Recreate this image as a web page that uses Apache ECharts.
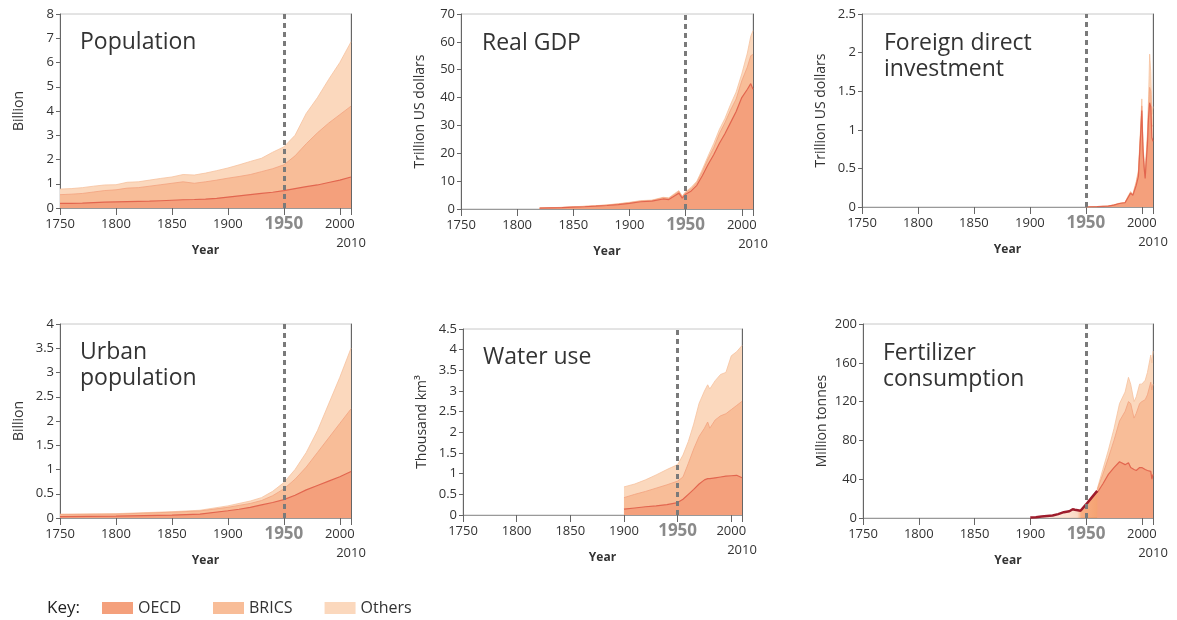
<!DOCTYPE html>
<html>
<head>
<meta charset="utf-8">
<script src="https://cdn.jsdelivr.net/npm/echarts@6/dist/echarts.min.js"></script>
<style>
  html, body { margin: 0; padding: 0; background: #fff; }
  #chart { width: 1177px; height: 620px; }
</style>
</head>
<body>
<div id="chart"></div>
<script>
// --- data ---
const groups = ['OECD', 'BRICS', 'Others']
const yearLabels = [1750, 1800, 1850, 1900, 1950, 2000]
const yearTicks = [1750, 1800, 1850, 1900, 1950, 2000, 2010]
const lastYear = '2010'

const popYears = [1750,1760,1770,1780,1790,1800,1810,1820,1830,1840,1850,1860,1870,1880,1890,1900,1910,1920,1930,1940,1950,1960,1970,1980,1990,2000,2010]
const popOecd = [0.19,0.19,0.2,0.22,0.24,0.25,0.26,0.27,0.28,0.3,0.32,0.34,0.35,0.37,0.4,0.45,0.5,0.55,0.6,0.65,0.72,0.8,0.88,0.95,1.05,1.15,1.28]
const popBrics = [0.36,0.38,0.4,0.44,0.48,0.5,0.56,0.57,0.62,0.66,0.7,0.74,0.67,0.71,0.75,0.78,0.8,0.83,0.9,0.97,1.06,1.35,1.77,2.15,2.45,2.7,2.92]
const popOthers = [0.23,0.23,0.24,0.24,0.23,0.21,0.24,0.24,0.25,0.26,0.26,0.3,0.34,0.36,0.39,0.42,0.48,0.54,0.55,0.68,0.74,0.85,1.25,1.45,1.8,2.15,2.65]

const gdpYears = [1820,1830,1840,1850,1860,1870,1880,1890,1900,1910,1920,1930,1935,1940,1944,1947,1950,1955,1960,1965,1970,1975,1980,1985,1990,1995,2000,2005,2008,2010]
const gdpOecd = [0.3,0.4,0.5,0.65,0.8,1.0,1.25,1.6,2.0,2.6,2.8,3.6,3.4,4.7,5.7,3.9,5.3,6.5,8.5,12,16,19.5,23.5,27,31,35,40,43,45,43]
const gdpBrics = [0.07,0.07,0.07,0.1,0.13,0.12,0.15,0.2,0.25,0.25,0.25,0.4,0.4,0.5,0.6,0.45,0.6,0.8,1.0,1.5,2.0,2.5,3.5,4.0,4.5,4.5,6.0,8.0,10,12.5]
const gdpOthers = [0.03,0.03,0.03,0.05,0.07,0.08,0.1,0.1,0.15,0.15,0.15,0.2,0.2,0.3,0.3,0.25,0.3,0.5,0.5,0.8,1.0,1.5,1.5,1.5,2.0,2.5,2.5,5.0,7.0,8.5]

const fdiYears = [1950,1960,1970,1975,1980,1985,1988,1990,1992,1995,1997,1999,2000,2001,2002,2003,2004,2005,2006,2007,2008,2009,2010]
const fdiOecd = [0,0.004,0.012,0.025,0.045,0.055,0.13,0.18,0.15,0.28,0.4,0.95,1.25,0.75,0.52,0.37,0.6,0.8,1.15,1.35,1.3,0.9,0.85]
const fdiBrics = [0,0,0,0,0,0.002,0.005,0.005,0.01,0.03,0.05,0.05,0.06,0.05,0.05,0.03,0.06,0.08,0.1,0.2,0.2,0.15,0.2]
const fdiOthers = [0,0.001,0.001,0.005,0.005,0.003,0.015,0.015,0.01,0.02,0.03,0.05,0.09,0.05,0.03,0.02,0.04,0.07,0.15,0.43,0.25,0.15,0.25]

const urbYears = [1750,1800,1850,1875,1900,1910,1920,1930,1940,1950,1960,1970,1980,1990,2000,2010]
const urbOecd = [0.03,0.04,0.06,0.08,0.15,0.18,0.22,0.27,0.32,0.38,0.47,0.58,0.67,0.76,0.85,0.96]
const urbBrics = [0.04,0.04,0.06,0.065,0.07,0.08,0.08,0.09,0.14,0.22,0.33,0.47,0.68,0.89,1.1,1.29]
const urbOthers = [0.01,0.01,0.01,0.015,0.03,0.04,0.05,0.06,0.09,0.13,0.2,0.3,0.45,0.7,0.95,1.25]

const watYears = [1900,1910,1920,1930,1940,1950,1955,1960,1965,1970,1975,1978,1980,1985,1990,1995,2000,2005,2010]
const watOecd = [0.14,0.17,0.2,0.22,0.25,0.3,0.38,0.5,0.62,0.75,0.85,0.88,0.88,0.9,0.92,0.94,0.95,0.96,0.9]
const watBrics = [0.28,0.33,0.37,0.43,0.48,0.52,0.54,0.75,0.98,1.15,1.25,1.37,1.22,1.4,1.48,1.51,1.6,1.69,1.85]
const watOthers = [0.26,0.25,0.28,0.32,0.37,0.4,0.53,0.53,0.6,0.8,0.9,0.9,0.95,0.95,1.0,1.0,1.3,1.3,1.35]

const ferYears = [1960,1965,1970,1975,1980,1985,1988,1990,1993,1995,1998,2000,2003,2005,2008,2009,2010]
const ferOecd = [26,35,45,52,58,55,57,52,50,49,52,52,50,49,48,40,45]
const ferBrics = [3,10,17,28,42,55,63,66,53,59,66,68,72,78,92,92,93]
const ferOthers = [1,5,8,12,18,20,25,20,17,17,20,18,20,23,28,28,34]
// world total before the regional split
const ferWorldYears = [1900,1905,1910,1915,1920,1925,1930,1935,1938,1940,1945,1950,1955,1960]
const ferWorld = [0.5,0.8,1.5,2,2.5,4,6,7,9,8.5,7.5,14,21,28]

const FONT = '"Open Sans", "Noto Sans", sans-serif'
const fills = ['#f4a07c', '#f8bd98', '#fbd8bd']
const edges = ['#e2664f', '#f2a27f', '#f6c29e']

const panels = [
  { title: 'Population', yName: 'Billion', max: 8, step: 1, years: popYears, vals: [popOecd, popBrics, popOthers],
    box: { left: 60, top: 14, width: 291, height: 194 }, titlePos: [75, 24] },
  { title: 'Real GDP', yName: 'Trillion US dollars', max: 70, step: 10, years: gdpYears, vals: [gdpOecd, gdpBrics, gdpOthers],
    box: { left: 461, top: 14, width: 292, height: 195 }, titlePos: [477, 25] },
  { title: 'Foreign direct\ninvestment', yName: 'Trillion US dollars', max: 2.5, step: 0.5, years: fdiYears, vals: [fdiOecd, fdiBrics, fdiOthers],
    box: { left: 862, top: 14, width: 291, height: 193 }, titlePos: [879, 25] },
  { title: 'Urban\npopulation', yName: 'Billion', max: 4, step: 0.5, years: urbYears, vals: [urbOecd, urbBrics, urbOthers],
    box: { left: 60, top: 324, width: 291, height: 194 }, titlePos: [75, 334] },
  { title: 'Water use', yName: 'Thousand km³', max: 4.5, step: 0.5, years: watYears, vals: [watOecd, watBrics, watOthers],
    box: { left: 463, top: 329, width: 279, height: 186 }, titlePos: [478, 339] },
  { title: 'Fertilizer\nconsumption', yName: 'Million tonnes', max: 200, step: 40, years: ferYears, vals: [ferOecd, ferBrics, ferOthers],
    box: { left: 863, top: 324, width: 290, height: 194 }, titlePos: [878, 335] },
]

const grid = [], xAxis = [], yAxis = [], series = [], title = []

panels.forEach((p, i) => {
  grid.push(Object.assign({ show: true, borderColor: '#c8c8c8', borderWidth: 1 }, p.box))

  title.push({
    text: p.title, left: p.titlePos[0], top: p.titlePos[1],
    textStyle: { fontFamily: FONT, fontSize: 23, fontWeight: 'normal', color: '#333', lineHeight: 26 },
  })

  xAxis.push({
    type: 'value', gridIndex: i, min: 1750, max: 2010,
    name: 'Year', nameLocation: 'middle', nameGap: 37,
    nameTextStyle: { fontFamily: FONT, fontSize: 12, fontWeight: 'bold', color: '#333' },
    axisLine: { lineStyle: { color: '#999' } },
    axisTick: { length: 7, customValues: yearTicks, lineStyle: { color: '#666' } },
    splitLine: { show: false },
    axisLabel: {
      fontFamily: FONT, fontSize: 13, color: '#333', margin: 8, lineHeight: 17,
      customValues: yearLabels,
      formatter: v => v === 1950 ? '{h|1950}' : String(v),
      rich: {
        h: { fontFamily: FONT, fontSize: 17, fontWeight: 'bold', color: '#8a8a8a', lineHeight: 17 },
      },
    },
  })

  yAxis.push({
    type: 'value', gridIndex: i, min: 0, max: p.max, interval: p.step,
    name: p.yName, nameLocation: 'middle', nameGap: 34,
    nameTextStyle: { fontFamily: FONT, fontSize: 14, color: '#333' },
    axisLine: { show: true, lineStyle: { color: '#666' } },
    axisTick: { show: true, length: 4, lineStyle: { color: '#666' } },
    axisLabel: { fontFamily: FONT, fontSize: 13, color: '#333', margin: 6 },
    splitLine: { show: false },
  })
  // dark right edge at 2010, its name is the "2010" label under the axis
  yAxis.push({
    type: 'value', gridIndex: i, position: 'right', min: 0, max: 1,
    name: lastYear, nameLocation: 'start', nameGap: 29,
    nameTextStyle: { fontFamily: FONT, fontSize: 13, color: '#333', align: 'center', verticalAlign: 'top' },
    axisLine: { show: true, lineStyle: { color: '#666' } },
    axisTick: { show: false }, axisLabel: { show: false }, splitLine: { show: false },
  })

  // cumulative tops: OECD, OECD+BRICS, total; drawn back to front
  const cum = p.vals.map((_, g) => p.years.map((_, k) => {
    let s = 0
    for (let j = 0; j <= g; j++) s += p.vals[j][k]
    return s
  }))
  for (let g = 2; g >= 0; g--) {
    const s = {
      name: groups[g], type: 'line',
      xAxisIndex: i, yAxisIndex: i * 2,
      showSymbol: false, symbol: 'none',
      lineStyle: { color: edges[g], width: g === 0 ? 1.2 : 0.8 },
      itemStyle: { color: fills[g] },
      areaStyle: { color: fills[g], opacity: 1 },
      data: p.years.map((y, k) => [y, +cum[g][k].toFixed(4)]),
    }
    if (g === 0) {
      s.markLine = {
        silent: true, symbol: ['none', 'none'], label: { show: false },
        lineStyle: { color: '#7a7a7a', type: [5, 4], width: 3 },
        data: [{ xAxis: 1950 }],
      }
    }
    series.push(s)
  }
})

// fertilizer world line before 1960
series.push({
  name: 'World', type: 'line', xAxisIndex: 5, yAxisIndex: 10,
  showSymbol: false, symbol: 'none', z: 3,
  lineStyle: { color: '#9e1c2c', width: 2.5 },
  areaStyle: {
    color: new echarts.graphic.LinearGradient(0, 0, 1, 0, [
      { offset: 0, color: 'rgba(251,216,189,0.3)' },
      { offset: 0.7, color: 'rgba(248,189,152,0.8)' },
      { offset: 0.76, color: '#f58c4e' },
      { offset: 1, color: '#f07a35' },
    ]),
  },
  data: ferWorldYears.map((y, k) => [y, ferWorld[k]]),
})

const chart = echarts.init(document.getElementById('chart'), null, { renderer: 'canvas' })
chart.setOption({
  animation: false,
  textStyle: { fontFamily: FONT },
  title,
  grid,
  xAxis,
  yAxis,
  series,
  legend: {
    data: groups, left: 102, top: 600, padding: 0, icon: 'rect',
    itemWidth: 31, itemHeight: 12, itemGap: 32,
    itemStyle: { borderWidth: 0 },
    textStyle: { fontFamily: FONT, fontSize: 16, color: '#333' },
    selectedMode: false,
  },
  graphic: [{
    type: 'text', left: 47, top: 600,
    style: { text: 'Key:', font: '17px ' + FONT, fill: '#222' },
  }],
})
</script>
</body>
</html>
